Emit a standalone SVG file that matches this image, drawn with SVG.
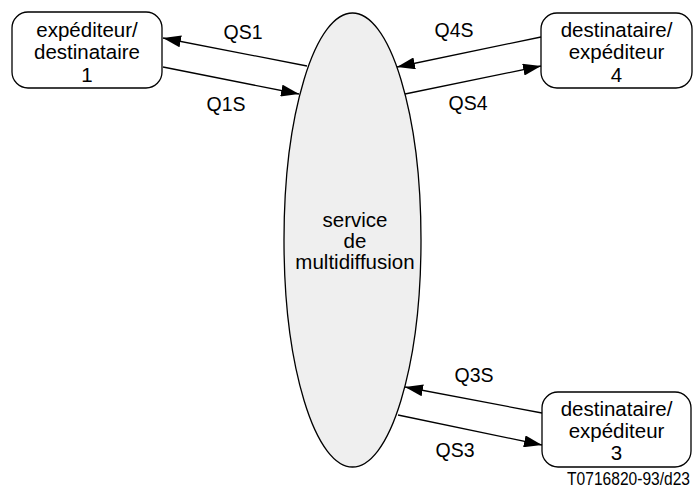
<svg xmlns="http://www.w3.org/2000/svg" width="693" height="490" viewBox="0 0 693 490">
<style>
.box{fill:#fff;stroke:#000;stroke-width:1.3}
.t{font-family:"Liberation Sans",Arial,sans-serif;font-size:20.5px;fill:#000;text-anchor:middle}
.l{font-family:"Liberation Sans",Arial,sans-serif;font-size:19.5px;fill:#000;text-anchor:middle}
.c line{stroke:#000;stroke-width:1.3;marker-end:url(#ah)}
</style>
<defs>
<marker id="ah" viewBox="0 0 18 12" refX="18" refY="6" markerWidth="18" markerHeight="12" markerUnits="userSpaceOnUse" orient="auto">
<path d="M0,0 L18,6 L0,12 Z" fill="#000"/>
</marker>
</defs>
<rect width="693" height="490" fill="#fff"/>
<g id="service">
<ellipse cx="352.5" cy="240" rx="68.5" ry="227" fill="#efefef" stroke="#000" stroke-width="1.3"/>
<text class="t" x="355" y="226.5">service</text>
<text class="t" x="355" y="248">de</text>
<text class="t" x="355" y="269">multidiffusion</text>
</g>
<g id="node1">
<rect class="box" x="12" y="12" width="150" height="76" rx="16"/>
<text class="t" x="87" y="36.5">expéditeur/</text>
<text class="t" x="87" y="59">destinataire</text>
<text class="t" x="87" y="81.5">1</text>
</g>
<g id="node4">
<rect class="box" x="541" y="13" width="151" height="75" rx="16"/>
<text class="t" x="616.5" y="36.5">destinataire/</text>
<text class="t" x="616.5" y="59">expéditeur</text>
<text class="t" x="616.5" y="81.5">4</text>
</g>
<g id="node3">
<rect class="box" x="542" y="392" width="149" height="75" rx="16"/>
<text class="t" x="616.5" y="416">destinataire/</text>
<text class="t" x="616.5" y="438">expéditeur</text>
<text class="t" x="616.5" y="460">3</text>
</g>
<g id="connectors" class="c">
<line x1="307" y1="66" x2="163" y2="38"/>
<line x1="163" y1="67" x2="299" y2="94"/>
<line x1="541" y1="37" x2="397" y2="67"/>
<line x1="405" y1="94" x2="541" y2="66"/>
<line x1="542" y1="413" x2="405" y2="387"/>
<line x1="398" y1="415" x2="542" y2="445"/>
</g>
<g id="labels">
<text class="l" x="243" y="39">QS1</text>
<text class="l" x="226" y="111">Q1S</text>
<text class="l" x="454" y="37">Q4S</text>
<text class="l" x="468" y="110">QS4</text>
<text class="l" x="474" y="382">Q3S</text>
<text class="l" x="455" y="457">QS3</text>
<text transform="translate(690,485) scale(0.82,1)" font-family="'Liberation Sans',Arial,sans-serif" font-size="19" text-anchor="end">T0716820-93/d23</text>
</g>
</svg>
